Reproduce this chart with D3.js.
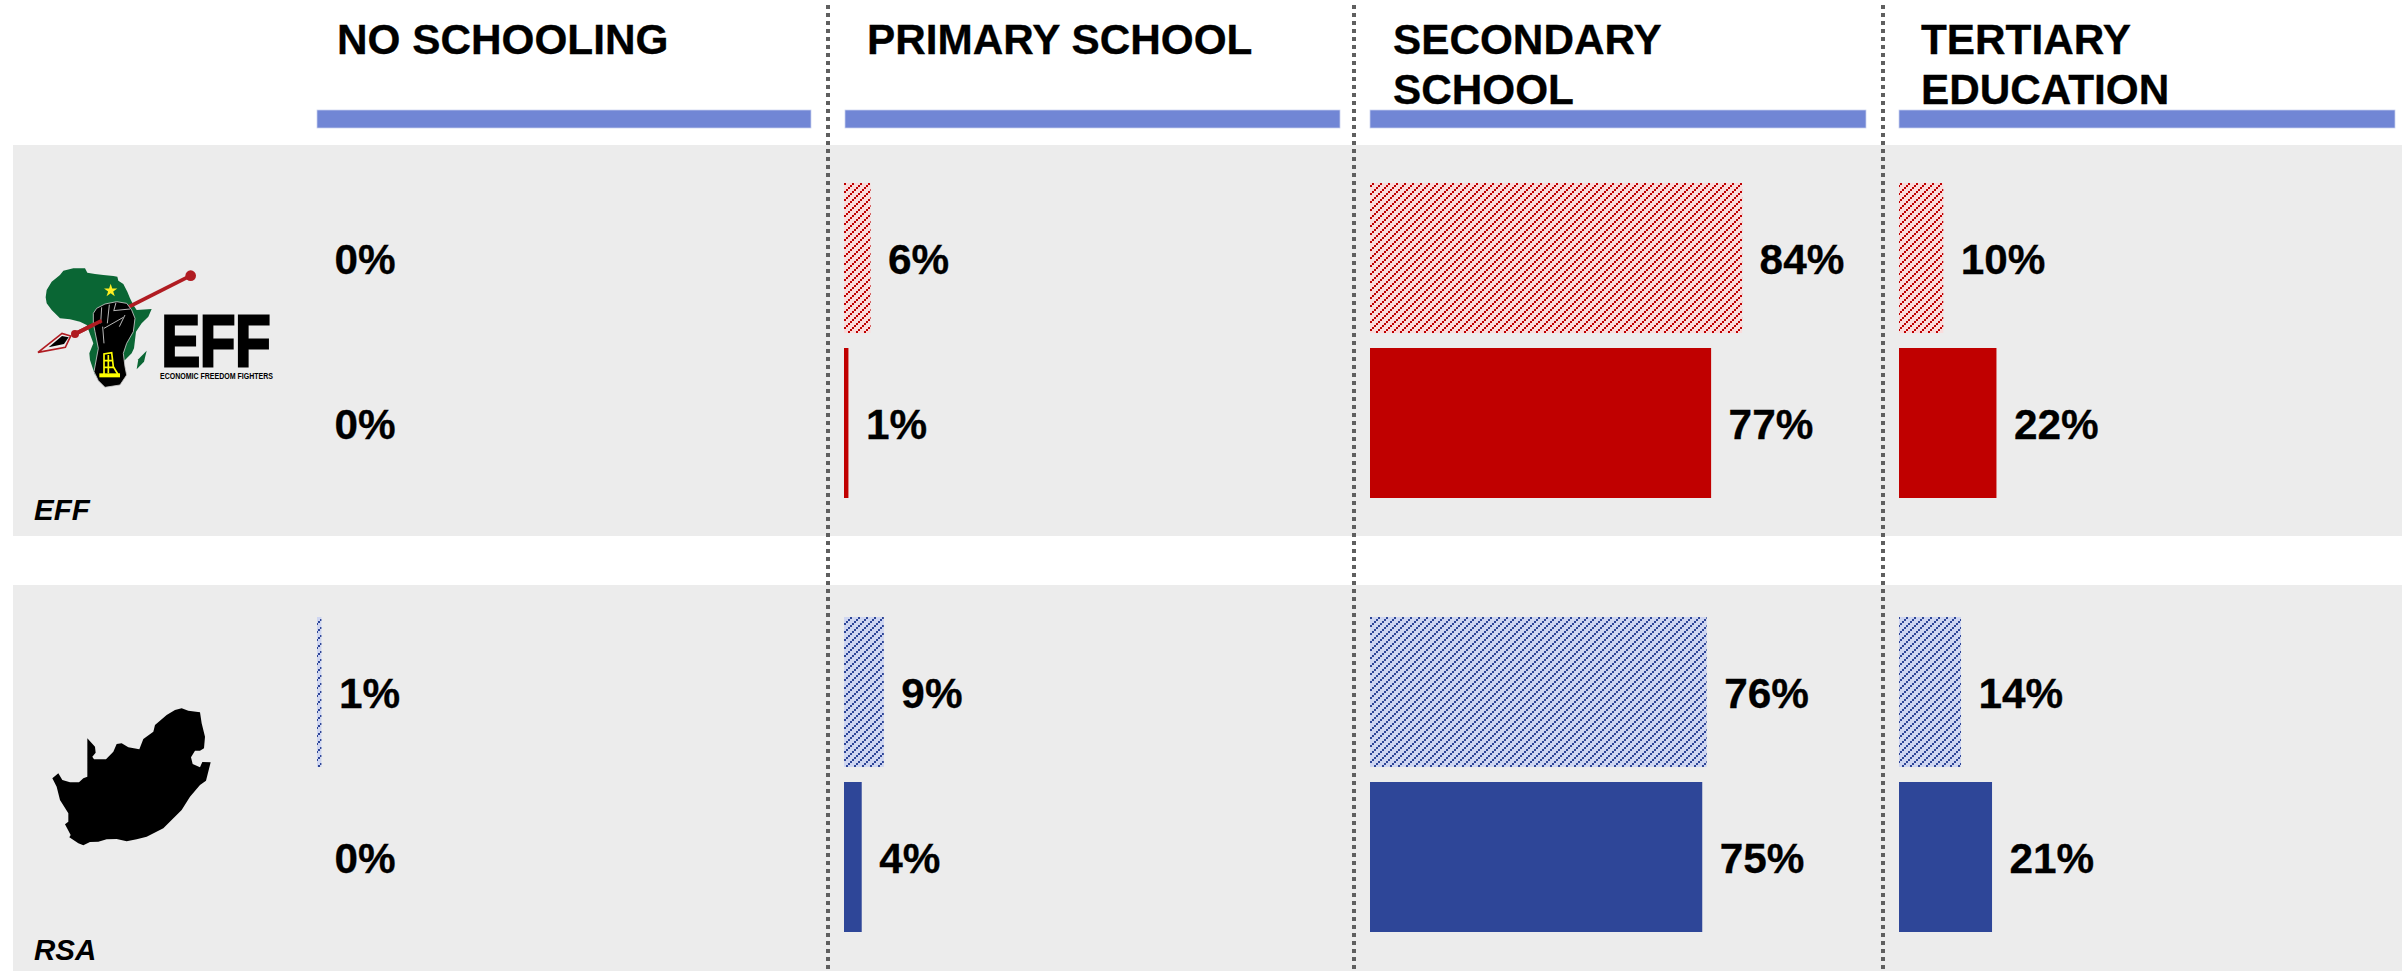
<!DOCTYPE html>
<html><head><meta charset="utf-8">
<script src="https://cdn.jsdelivr.net/npm/d3@7/dist/d3.min.js"></script>
<style>html,body{margin:0;padding:0;background:#fff}svg{display:block}text{font-family:"Liberation Sans",Arial,sans-serif;font-weight:700;fill:#000}</style>
</head><body><svg id="c" width="2402" height="971"></svg>
<script>
const categories = ["NO SCHOOLING","PRIMARY SCHOOL","SECONDARY SCHOOL","TERTIARY EDUCATION"];
const categoryLines = [["NO SCHOOLING"],["PRIMARY SCHOOL"],["SECONDARY","SCHOOL"],["TERTIARY","EDUCATION"]];
const groups = ["EFF","RSA"];
const effHatched = [0,6,84,10];
const effSolid   = [0,1,77,22];
const rsaHatched = [1,9,76,14];
const rsaSolid   = [0,4,75,21];

const svg = d3.select("#c");
const colX = d3.scaleOrdinal(categories,[317,844,1370,1899]);
const headX = d3.scaleOrdinal(categories,[317,845,1370,1899]);
const headEnd = d3.scaleOrdinal(categories,[811,1340,1866,2395]);
const titleX = d3.scaleOrdinal(categories,[337,867,1393,1921]);
const x = d3.scaleLinear([0,100],[0,443]);
const panel = {EFF:{y0:145,y1:536,bars:[183,348]},RSA:{y0:585,y1:971,bars:[617,782]}};
const barH = 150;
const colours = {EFF:{solid:"#c00000",light:"#fadcdc"},RSA:{solid:"#2e4698",light:"#cfd6f1"}};

// hatch patterns
const defs = svg.append("defs");
groups.forEach(g=>{
  const p = defs.append("pattern").attr("id","hatch"+g).attr("patternUnits","userSpaceOnUse")
    .attr("x",2).attr("y",7).attr("width",8).attr("height",8);
  p.append("rect").attr("width",8).attr("height",8).attr("fill",colours[g].light);
  [[2,0],[0,2],[6,4],[4,6]].forEach(([a,b])=>p.append("rect").attr("x",a).attr("y",b).attr("width",2).attr("height",2)
    .attr("fill",colours[g].solid).attr("shape-rendering","crispEdges"));
});

// panels
svg.selectAll("rect.panel").data(groups).join("rect").attr("class","panel")
  .attr("x",13).attr("width",2402-13).attr("y",g=>panel[g].y0).attr("height",g=>panel[g].y1-panel[g].y0).attr("fill","#ececec");

// header rules and titles
svg.selectAll("rect.head").data(categories).join("rect").attr("class","head")
  .attr("x",c=>headX(c)).attr("width",c=>headEnd(c)-headX(c)).attr("y",110).attr("height",18)
  .attr("fill","#7186d5").attr("stroke","#c9d2ef").attr("stroke-width",0.75);
categories.forEach((c,i)=>{
  const t = svg.append("text").attr("font-size",42.3).attr("stroke","#000").attr("stroke-width",0.3);
  categoryLines[i].forEach((l,j)=>t.append("tspan").attr("x",titleX(c)).attr("y",54+j*50).text(l));
});

// bars
const rows = [
  {g:"EFF",row:0,vals:effHatched,hatched:true},
  {g:"EFF",row:1,vals:effSolid,hatched:false},
  {g:"RSA",row:0,vals:rsaHatched,hatched:true},
  {g:"RSA",row:1,vals:rsaSolid,hatched:false}];
rows.forEach(r=>{
  const y = panel[r.g].bars[r.row];
  const d = categories.map((c,i)=>({c,v:r.vals[i]}));
  svg.append("g").selectAll("rect").data(d).join("rect")
    .attr("x",e=>colX(e.c)).attr("y",y).attr("width",e=>x(e.v)).attr("height",barH)
    .attr("fill",r.hatched?`url(#hatch${r.g})`:colours[r.g].solid);
  svg.append("g").selectAll("text").data(d).join("text")
    .attr("x",e=>colX(e.c)+x(e.v)+17.5).attr("y",y+barH/2+16).attr("font-size",42.3)
    .attr("stroke","#000").attr("stroke-width",0.3)
    .text(e=>e.v+"%");
});

// separators
svg.selectAll("line.sep").data([828,1354,1883]).join("line").attr("class","sep")
  .attr("x1",d=>d).attr("x2",d=>d).attr("y1",5).attr("y2",971)
  .attr("stroke","#5f5f5f").attr("stroke-width",4).attr("stroke-dasharray","4 4");

// group names
svg.selectAll("text.grp").data(groups).join("text").attr("class","grp")
  .attr("x",34).attr("y",g=>g==="EFF"?520:960).attr("font-size",29.5).attr("font-style","italic").text(g=>g);

// EFF logo, drawn at 3x and scaled down
const eff = svg.append("g").attr("transform","translate(30,260) scale(0.33333)");
const red = "#b01c22";
eff.append("path").attr("fill","#0a6634").attr("d","M47,112L50,90L65,65L90,45L100,32L130,25L165,25L172,38L195,42L220,45L250,48L262,50L265,62L280,72L292,95L300,115L310,135L320,150L365,147L355,170L335,190L318,215L312,265L305,280L285,300L215,340L195,345L180,300L178,280L190,250L170,195L150,185L120,178L90,175L65,150L50,130Z");
eff.append("path").attr("fill","#0a6634").attr("d","M350,272L342,305L320,328L325,298Z");
eff.append("path").attr("fill","#ffee22").attr("d",d3.symbol(d3.symbolStar,495)()).attr("transform","translate(242,92)");
eff.append("path").attr("fill","none").attr("stroke",red).attr("stroke-width",11).attr("d","M482,47L135,222");
eff.append("circle").attr("cx",482).attr("cy",47).attr("r",16).attr("fill",red);
eff.append("path").attr("fill","#000").attr("stroke","#ccc").attr("stroke-width",2.5).attr("d","M190,160L200,145L225,132L260,125L290,130L305,150L315,175L310,215L290,250L280,280L285,320L290,345L270,375L225,382L205,362L192,335L205,265L195,215L190,190Z");
eff.append("path").attr("fill","none").attr("stroke","#ddd").attr("stroke-width",2.5).attr("d","M215,142L212,190M238,134L232,190M258,128L252,150M250,152L300,147M222,205L280,172M285,165L268,200M218,200L222,250");
eff.append("path").attr("fill","none").attr("stroke",red).attr("stroke-width",11).attr("d","M215,182L135,222");
eff.append("path").attr("fill","none").attr("stroke","#ffff00").attr("stroke-width",5).attr("d","M222,345L222,282L245,278L250,320L265,345M235,285L235,340M222,302L248,302M222,322L252,322");
eff.append("rect").attr("x",208).attr("y",340).attr("width",62).attr("height",12).attr("fill","#ffff00");
eff.append("circle").attr("cx",135).attr("cy",222).attr("r",12).attr("fill",red);
eff.append("path").attr("fill","#eee").attr("stroke",red).attr("stroke-width",5).attr("d","M122,228L96,220L24,277L106,262Z");
eff.append("path").attr("fill","#000").attr("d","M116,232L96,228L56,262L102,252Z");
svg.append("text").attr("x",161.5).attr("y",365.5).attr("font-size",72).attr("stroke","#000").attr("stroke-width",3)
  .attr("textLength",109).attr("lengthAdjust","spacingAndGlyphs").text("EFF");
svg.append("text").attr("x",160).attr("y",379).attr("font-size",9.3).attr("fill","#222")
  .attr("textLength",113).attr("lengthAdjust","spacingAndGlyphs").text("ECONOMIC FREEDOM FIGHTERS");

// South Africa silhouette
svg.append("path").attr("transform","translate(0,640) scale(0.33333)").attr("fill","#000")
  .attr("d","M157,415L175,400L187,420L210,427L237,427L250,415L262,410L262,295L285,320L287,338L277,350L282,358L318,358L340,335L350,312L365,310L385,322L418,328L430,297L460,275L465,255L500,225L525,210L545,205L565,212L600,217L605,250L615,290L612,325L600,332L585,332L573,352L578,372L600,382L607,366L632,367L618,422L600,435L570,470L545,510L490,565L440,590L410,598L380,604L350,597L320,598L295,605L270,606L250,616L235,610L208,592L212,585L195,553L205,545L205,520L180,480L170,440Z");
</script></body></html>
